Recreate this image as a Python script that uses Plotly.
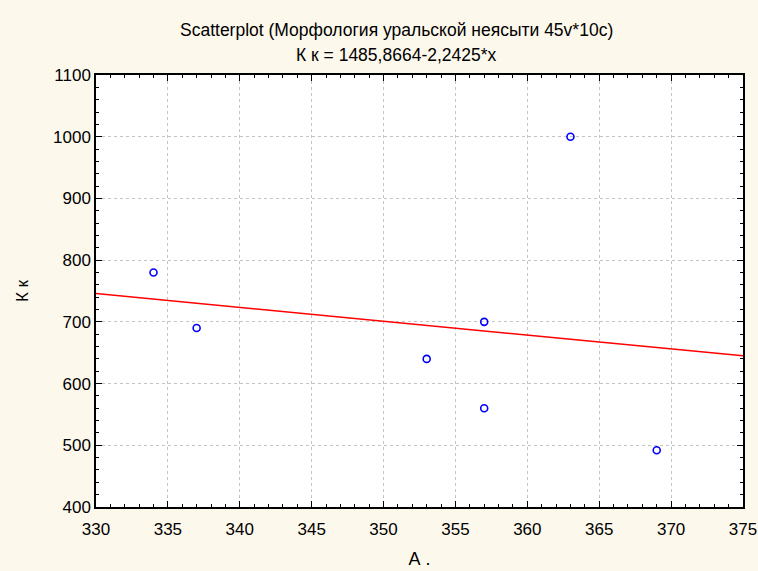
import plotly.graph_objects as go

x_vals = [334, 337, 353, 357, 357, 363, 369]
y_vals = [780, 690, 640, 700, 560, 1000, 492]
intercept = 1485.8664
slope = -2.2425
x_range = [330, 375]
y_range = [400, 1100]
title_lines = ["Scatterplot (Морфология уральской неясыти 45v*10c)", "К к = 1485,8664-2,2425*x"]

line_x = x_range
line_y = [intercept + slope * v for v in line_x]

FONT = "Liberation Sans, Arial"

fig = go.Figure()
fig.add_trace(go.Scatter(x=line_x, y=line_y, mode="lines",
                         line=dict(color="#ff0000", width=1.5), showlegend=False, hoverinfo="skip"))
fig.add_trace(go.Scatter(x=x_vals, y=y_vals, mode="markers",
                         marker=dict(symbol="circle-open", size=7, color="#0000ff", line=dict(width=1.6)),
                         showlegend=False))

axis_common = dict(showline=True, linecolor="black", linewidth=1.5, mirror="allticks",
                   ticks="inside", ticklen=6, tickcolor="black", tickwidth=1,
                   showgrid=True, gridcolor="#c4c4c4", griddash="dot", gridwidth=1,
                   zeroline=False, automargin=False,
                   tickfont=dict(family=FONT, size=17, color="black"))

fig.update_xaxes(range=x_range, dtick=5, tick0=330, ticklabelstandoff=6,
                 minor=dict(dtick=1, ticks="inside", ticklen=3, tickcolor="black", showgrid=False),
                 title=dict(text="А .", font=dict(family=FONT, size=18, color="black"), standoff=14),
                 **axis_common)
fig.update_yaxes(range=y_range, dtick=100, tick0=400,
                 minor=dict(dtick=20, ticks="inside", ticklen=3, tickcolor="black", showgrid=False),
                 title=dict(text="К к", font=dict(family=FONT, size=17, color="black"), standoff=20),
                 **axis_common)

fig.update_layout(
    width=758, height=571,
    paper_bgcolor="#fdf8ec", plot_bgcolor="white",
    margin=dict(l=96, r=15, t=75, b=64),
    font=dict(family=FONT, color="black"),
)
plot_h = 571 - 75 - 64
plot_w = 758 - 96 - 15
for i, ypix in enumerate([30, 55]):
    fig.add_annotation(text=title_lines[i], x=(396 - 96) / plot_w, xref="paper", xanchor="center",
                       y=1 + (75 - ypix) / plot_h, yref="paper", yanchor="middle",
                       showarrow=False, font=dict(family=FONT, size=17.5, color="black"))

fig.write_html("out.html")
